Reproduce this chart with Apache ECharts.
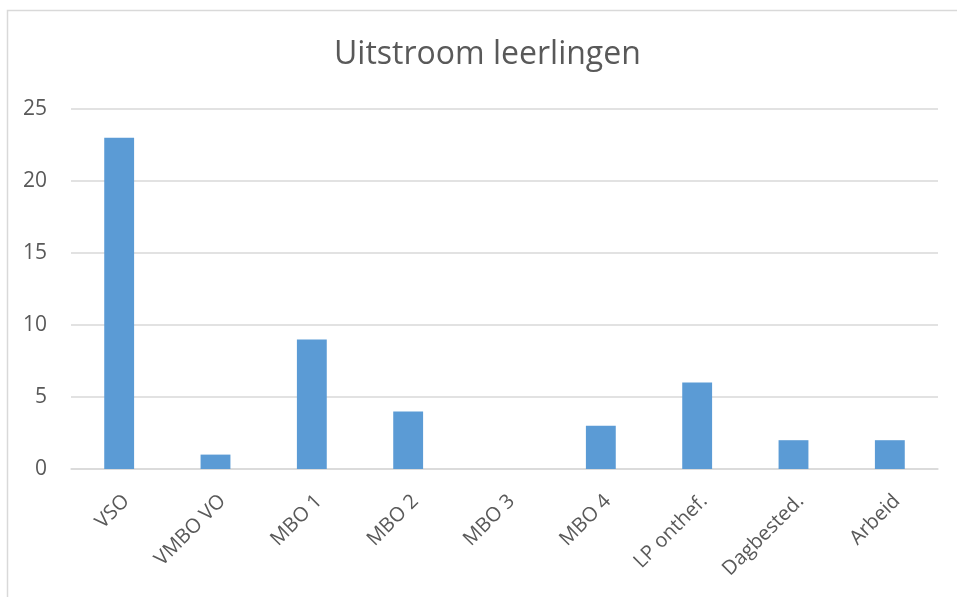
<!DOCTYPE html>
<html>
    <head>
        <meta charset="utf-8">
        <script src="https://cdn.jsdelivr.net/npm/echarts@6/dist/echarts.min.js"></script>
    </head>
    <body style="margin:0">
        <div id="main" style="width: 957px; height: 597px"></div>
        <script type="text/javascript">
            // data
            const categories = ['VSO', 'VMBO VO', 'MBO 1', 'MBO 2', 'MBO 3', 'MBO 4', 'LP onthef.', 'Dagbested.', 'Arbeid'];
            const values = [23, 1, 9, 4, 0, 3, 6, 2, 2];
            const yTicks = [0, 5, 10, 15, 20, 25];

            var myChart = echarts.init(document.getElementById('main'));
            const font = '"Open Sans", "Noto Sans", sans-serif';

            var option = {
                animation: false,
                backgroundColor: '#ffffff',
                graphic: [{
                    type: 'rect',
                    shape: { x: 7.5, y: 10.5, width: 1000, height: 700 },
                    style: { fill: 'none', stroke: '#d9d9d9', lineWidth: 1.5 },
                    silent: true
                }],
                title: {
                    text: 'Uitstroom leerlingen',
                    left: 329,
                    top: 34,
                    textStyle: { fontFamily: font, fontSize: 32, fontWeight: 'normal', color: '#595959' }
                },
                grid: { left: 71, right: 19, top: 109, bottom: 128, containLabel: false },
                xAxis: {
                    type: 'category',
                    data: categories,
                    axisLine: { lineStyle: { color: '#d9d9d9', width: 1.5 } },
                    axisTick: { show: false },
                    axisLabel: {
                        rotate: 45, margin: 22, align: 'right', verticalAlign: 'top',
                        fontFamily: font, fontSize: 20, color: '#595959', interval: 0
                    }
                },
                yAxis: {
                    type: 'value',
                    min: yTicks[0],
                    max: yTicks[yTicks.length - 1],
                    interval: 5,
                    axisLine: { show: false },
                    axisTick: { show: false },
                    splitLine: { lineStyle: { color: '#d9d9d9', width: 1.5 } },
                    axisLabel: { margin: 24, fontFamily: font, fontSize: 21, color: '#595959' }
                },
                series: [{
                    type: 'bar',
                    data: values,
                    barWidth: '31%',
                    itemStyle: { color: '#5b9bd5' }
                }]
            };

            option && myChart.setOption(option);
        </script>
    </body>
</html>
